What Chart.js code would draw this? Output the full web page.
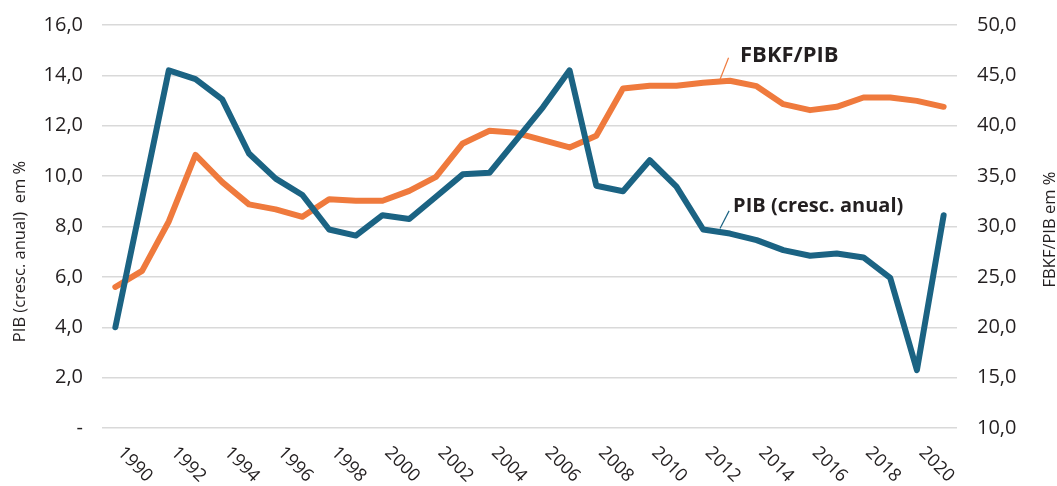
<!DOCTYPE html>
<html lang="pt">
<head>
<meta charset="UTF-8">
<title>PIB e FBKF/PIB</title>
<script src="https://cdn.jsdelivr.net/npm/chart.js"></script>
<style>
  html, body { margin: 0; padding: 0; background: #ffffff; }
  #wrap { width: 1057px; height: 486px; position: relative; }
</style>
</head>
<body>
<div id="wrap"><canvas id="grafico"></canvas></div>
<script>
// anos da série
const anos = ['1990','1991','1992','1993','1994','1995','1996','1997','1998','1999',
              '2000','2001','2002','2003','2004','2005','2006','2007','2008','2009',
              '2010','2011','2012','2013','2014','2015','2016','2017','2018','2019',
              '2020','2021'];

// PIB (cresc. anual) em % - eixo esquerdo
const pib = [4.0, 9.1, 14.2, 13.85, 13.05, 10.9, 9.9, 9.25, 7.88, 7.64,
             8.45, 8.3, 9.18, 10.07, 10.13, 11.43, 12.73, 14.2, 9.62, 9.4,
             10.63, 9.58, 7.88, 7.72, 7.46, 7.06, 6.84, 6.93, 6.77, 5.96,
             2.3, 8.45];

// FBKF/PIB em % - eixo direito
const fbkf = [24.0, 25.6, 30.5, 37.1, 34.4, 32.2, 31.7, 30.96, 32.7, 32.55,
              32.55, 33.54, 34.93, 38.24, 39.5, 39.3, 38.57, 37.85, 39.0, 43.7,
              43.96, 43.96, 44.26, 44.46, 43.93, 42.14, 41.55, 41.88, 42.8, 42.8,
              42.47, 41.88];

const corPib = '#1b6383';
const corFbkf = '#ef7a3d';
const corTexto = '#231f20';
const fonte = '"Open Sans", "Noto Sans", sans-serif';

function formata(v) {
  return v === 0 ? '-' : v.toFixed(1).replace('.', ',');
}

// rótulos do eixo x (girados), títulos dos eixos e anotações
const rotulos = {
  id: 'rotulos',
  afterDraw(chart) {
    const { ctx, chartArea, scales } = chart;
    const x = scales.x, yE = scales.y, yD = scales.y2;
    ctx.save();

    ctx.fillStyle = corTexto;
    ctx.font = '18px ' + fonte;
    ctx.textAlign = 'left';
    ctx.textBaseline = 'middle';
    anos.forEach((a, i) => {
      if (Number(a) % 2 !== 0) return;
      ctx.save();
      ctx.translate(x.getPixelForValue(i) + 5, chartArea.bottom + 22);
      ctx.rotate(Math.PI / 4);
      ctx.fillText(a, 0, 0);
      ctx.restore();
    });

    // títulos dos eixos
    ctx.font = '16.5px ' + fonte;
    ctx.textAlign = 'center';
    ctx.save();
    ctx.translate(20, (chartArea.top + chartArea.bottom) / 2 + 25);
    ctx.rotate(-Math.PI / 2);
    ctx.fillText('PIB (cresc. anual)  em %', 0, 0);
    ctx.restore();
    ctx.save();
    ctx.translate(chart.width - 7, (chartArea.top + chartArea.bottom) / 2 + 3);
    ctx.rotate(-Math.PI / 2);
    ctx.fillText('FBKF/PIB em %', 0, 0);
    ctx.restore();

    // anotações
    ctx.lineWidth = 1.2;
    ctx.strokeStyle = corFbkf;
    ctx.beginPath();
    ctx.moveTo(x.getPixelForValue(22.63), yD.getPixelForValue(44.6));
    ctx.lineTo(x.getPixelForValue(22.95), yD.getPixelForValue(46.74));
    ctx.stroke();
    ctx.strokeStyle = corPib;
    ctx.beginPath();
    ctx.moveTo(x.getPixelForValue(22.63), yE.getPixelForValue(7.92));
    ctx.lineTo(x.getPixelForValue(22.97), yE.getPixelForValue(8.62));
    ctx.stroke();

    ctx.textAlign = 'left';
    ctx.textBaseline = 'alphabetic';
    ctx.font = 'bold 22px ' + fonte;
    ctx.fillText('FBKF/PIB', x.getPixelForValue(23.38), yD.getPixelForValue(46.28));
    ctx.font = 'bold 20px ' + fonte;
    ctx.fillText('PIB (cresc. anual)', x.getPixelForValue(23.12), yE.getPixelForValue(8.58));

    ctx.restore();
  }
};

// fixa larguras e tira o recuo automático dos eixos verticais
function fixaEixo(largura) {
  return (s) => {
    s.width = largura;
    s.paddingTop = 0;
    s.paddingBottom = 0;
  };
}

const ctx = document.getElementById('grafico').getContext('2d');
new Chart(ctx, {
  type: 'line',
  data: {
    labels: anos,
    datasets: [
      {
        label: 'PIB (cresc. anual)',
        data: pib,
        yAxisID: 'y',
        borderColor: corPib,
        borderWidth: 6,
        pointRadius: 0,
        borderCapStyle: 'round',
        borderJoinStyle: 'round',
        tension: 0
      },
      {
        label: 'FBKF/PIB',
        data: fbkf,
        yAxisID: 'y2',
        borderColor: corFbkf,
        borderWidth: 6,
        pointRadius: 0,
        borderCapStyle: 'round',
        borderJoinStyle: 'round',
        tension: 0
      }
    ]
  },
  options: {
    responsive: true,
    maintainAspectRatio: false,
    animation: false,
    layout: { padding: { top: 25, left: 0, right: 0, bottom: 0 } },
    plugins: {
      legend: { display: false },
      tooltip: { enabled: false }
    },
    scales: {
      x: {
        offset: true,
        grid: { display: false },
        border: { display: false },
        ticks: { display: false },
        afterFit: (s) => { s.height = 58; s.paddingLeft = 0; s.paddingRight = 0; }
      },
      y: {
        position: 'left',
        min: 0,
        max: 16,
        ticks: {
          stepSize: 2,
          padding: 19,
          color: corTexto,
          font: { family: fonte, size: 20 },
          callback: (v) => formata(v)
        },
        grid: { color: '#d9d9d9', lineWidth: 1.5, drawTicks: false },
        border: { display: false },
        afterFit: fixaEixo(102)
      },
      y2: {
        position: 'right',
        min: 10,
        max: 50,
        ticks: {
          stepSize: 5,
          padding: 20,
          color: corTexto,
          font: { family: fonte, size: 20 },
          callback: (v) => v.toFixed(1).replace('.', ',')
        },
        grid: { display: false, drawTicks: false },
        border: { display: false },
        afterFit: fixaEixo(100)
      }
    }
  },
  plugins: [rotulos]
});
</script>
</body>
</html>
